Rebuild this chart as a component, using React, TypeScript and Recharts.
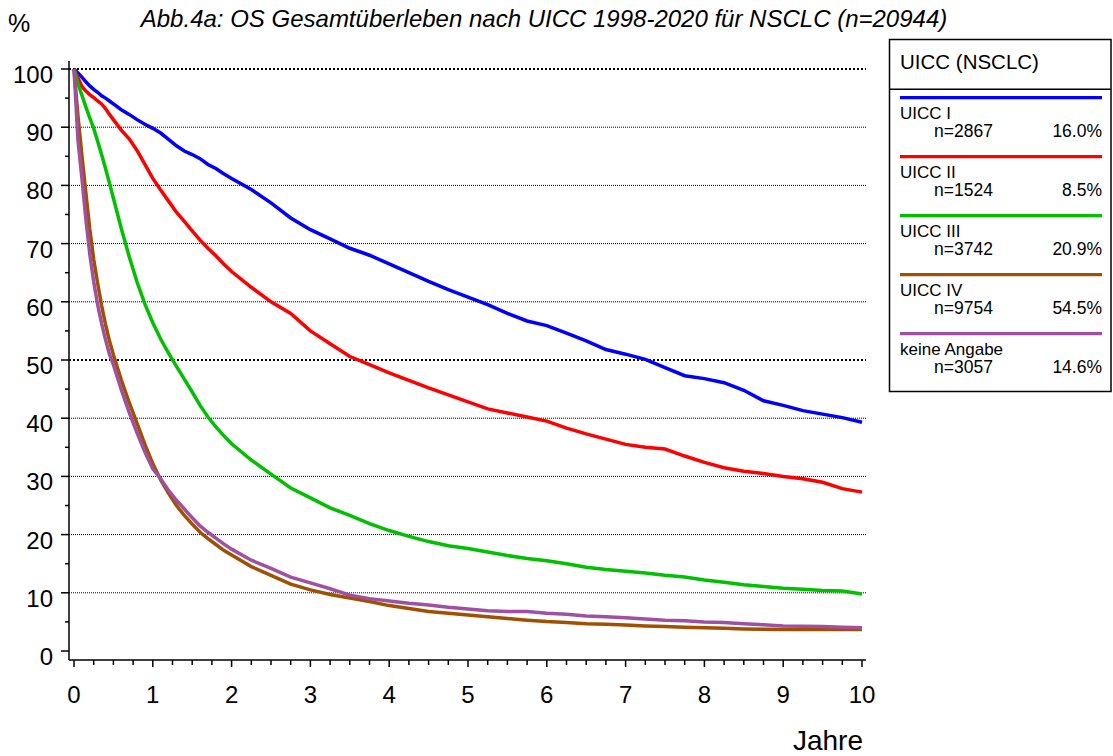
import React from "react";
import { LineChart, Line, XAxis, YAxis, CartesianGrid } from "recharts";

const years = [
  0, 0.05, 0.1, 0.15, 0.2, 0.25, 0.3, 0.35, 0.4, 0.45,
  0.5, 0.6, 0.7, 0.8, 0.9, 1.0, 1.1, 1.2, 1.3, 1.4,
  1.5, 1.6, 1.7, 1.8, 1.9, 2.0, 2.25, 2.5, 2.75, 3.0,
  3.25, 3.5, 3.75, 4.0, 4.25, 4.5, 4.75, 5.0, 5.25, 5.5,
  5.75, 6.0, 6.25, 6.5, 6.75, 7.0, 7.25, 7.5, 7.75, 8.0,
  8.25, 8.5, 8.75, 9.0, 9.25, 9.5, 9.75, 10,
];

const uiccI = [
  100, 99.3, 98.6, 97.8, 97.1, 96.5, 96.0, 95.4, 95.0, 94.5,
  94.0, 93.0, 92.2, 91.3, 90.5, 89.8, 89.0, 87.9, 86.8, 85.9,
  85.3, 84.6, 83.6, 82.9, 82.0, 81.2, 79.3, 77.0, 74.4, 72.4,
  70.8, 69.2, 68.0, 66.5, 65.0, 63.5, 62.1, 60.8, 59.5, 58.0,
  56.7, 55.9, 54.6, 53.3, 51.8, 51.0, 50.1, 48.7, 47.3, 46.8,
  46.1, 44.8, 43.0, 42.2, 41.3, 40.7, 40.1, 39.3,
];

const uiccII = [
  100, 98.5, 97.0, 96.2, 95.6, 95.1, 94.5, 94.0, 93.2, 92.2,
  91.3, 89.5, 88.0, 86.0, 83.6, 81.2, 79.2, 77.3, 75.4, 73.8,
  72.2, 70.6, 69.2, 67.9, 66.5, 65.2, 62.5, 60.0, 58.0, 55.0,
  52.8, 50.6, 49.2, 47.8, 46.5, 45.2, 44.0, 42.8, 41.6, 40.9,
  40.2, 39.5, 38.3, 37.3, 36.4, 35.5, 35.0, 34.7, 33.5, 32.4,
  31.5, 30.9, 30.5, 30.0, 29.6, 29.0, 27.9, 27.3,
];

const uiccIII = [
  100, 97.5, 95.5, 93.5, 91.6, 89.8, 87.6, 85.3, 82.9, 80.4,
  77.8, 72.6, 67.8, 63.4, 59.6, 56.4, 53.6, 51.2, 48.9, 46.7,
  44.5, 42.2, 40.2, 38.5, 37.0, 35.6, 32.8, 30.4, 28.0, 26.3,
  24.6, 23.3, 21.9, 20.7, 19.7, 18.8, 18.1, 17.6, 17.0, 16.4,
  15.9, 15.5, 15.0, 14.4, 14.0, 13.7, 13.4, 13.0, 12.7, 12.2,
  11.8, 11.4, 11.1, 10.8, 10.6, 10.4, 10.3, 9.8,
];

const uiccIV = [
  100, 92.0, 85.2, 78.8, 72.5, 67.3, 63.2, 59.4, 56.1, 53.3,
  50.9, 46.6, 42.7, 39.1, 35.5, 32.2, 29.4, 27.1, 25.0, 23.3,
  21.8, 20.4, 19.3, 18.3, 17.3, 16.5, 14.5, 13.0, 11.5, 10.5,
  9.7, 9.1, 8.5, 7.8, 7.3, 6.8, 6.5, 6.2, 5.9, 5.6,
  5.3, 5.05, 4.9, 4.7, 4.6, 4.45, 4.3, 4.2, 4.1, 4.0,
  3.9, 3.8, 3.75, 3.7, 3.7, 3.7, 3.7, 3.7,
];

const keineAngabe = [
  100, 87.8, 81.3, 74.3, 68.2, 63.5, 59.5, 56.3, 53.5, 51.0,
  49.2, 44.9, 41.0, 37.5, 34.2, 31.3, 29.6, 27.6, 25.9, 24.4,
  22.9, 21.5, 20.4, 19.4, 18.4, 17.5, 15.6, 14.2, 12.7, 11.7,
  10.7, 9.6, 9.0, 8.6, 8.2, 7.9, 7.5, 7.2, 6.9, 6.8,
  6.8, 6.5, 6.3, 6.0, 5.9, 5.7, 5.5, 5.3, 5.2, 5.0,
  4.9, 4.7, 4.5, 4.3, 4.25, 4.2, 4.1, 4.0,
];

const seriesKeys = ["uiccI", "uiccII", "uiccIII", "uiccIV", "keineAngabe"];
const seriesColors = ["#0000ff", "#ff0000", "#00c000", "#a05000", "#a050a0"];
const legendLabels = ["UICC I", "UICC II", "UICC III", "UICC IV", "keine Angabe"];
const legendN = ["n=2867", "n=1524", "n=3742", "n=9754", "n=3057"];
const legendPct = ["16.0%", "8.5%", "20.9%", "54.5%", "14.6%"];

const xTicks = Array.from({ length: 41 }, (_, i) => i * 0.25);
const yTicks = Array.from({ length: 21 }, (_, i) => i * 5);

const title = "Abb.4a: OS Gesamtüberleben nach UICC 1998-2020 für NSCLC (n=20944)";
const legendTitle = "UICC (NSCLC)";

const data = years.map((t, i) => ({
  t,
  uiccI: uiccI[i],
  uiccII: uiccII[i],
  uiccIII: uiccIII[i],
  uiccIV: uiccIV[i],
  keineAngabe: keineAngabe[i],
}));

const FONT = "'Liberation Sans', Arial, Helvetica, sans-serif";

const XTick = (props: any) => {
  const { x, y, payload } = props;
  const v = payload.value;
  const major = Math.abs(v - Math.round(v)) < 1e-6;
  return (
    <g>
      <line x1={x} x2={x} y1={y} y2={y + (major ? 7 : 5)} stroke="#000" strokeWidth={1.5} />
      {major && (
        <text x={x} y={y + 43} textAnchor="middle" fontSize={24} fontFamily={FONT} fill="#000">
          {Math.round(v)}
        </text>
      )}
    </g>
  );
};

const YTick = (props: any) => {
  const { x, y, payload } = props;
  const v = payload.value;
  const major = v % 10 === 0;
  return (
    <g>
      <line x1={x} x2={x - (major ? 8 : 4)} y1={y} y2={y} stroke="#000" strokeWidth={1.5} />
      {major && (
        <text x={x - 16} y={y + 14} textAnchor="end" fontSize={24} fontFamily={FONT} fill="#000">
          {v}
        </text>
      )}
    </g>
  );
};

export default function App() {
  return (
    <div style={{ position: "absolute", left: 0, top: 0, width: 1113, height: 756, background: "#fff" }}>
      <LineChart
        width={1113}
        height={756}
        data={data}
        margin={{ top: 61, right: 247, bottom: 56, left: 9 }}
      >
        <CartesianGrid
          vertical={false}
          horizontalValues={[10, 20, 30, 40, 60, 70, 80, 90]}
          stroke="#000"
          strokeWidth={1}
          strokeDasharray="1 1"
        />
        <CartesianGrid
          vertical={false}
          horizontalValues={[50, 100]}
          stroke="#000"
          strokeWidth={2}
          strokeDasharray="2 2"
        />
        <XAxis
          type="number"
          dataKey="t"
          domain={[0, 10]}
          ticks={xTicks}
          interval={0}
          padding={{ left: 5, right: 4 }}
          height={40}
          tickSize={0}
          tickMargin={0}
          tickLine={false}
          axisLine={{ stroke: "#000", strokeWidth: 1.5 }}
          tick={<XTick />}
        />
        <YAxis
          type="number"
          domain={[0, 100]}
          ticks={yTicks}
          interval={0}
          padding={{ top: 8, bottom: 9 }}
          width={60}
          tickSize={0}
          tickMargin={0}
          tickLine={false}
          axisLine={{ stroke: "#000", strokeWidth: 1.5 }}
          tick={<YTick />}
        />
        {seriesKeys.map((k, i) => (
          <Line
            key={k}
            type="linear"
            dataKey={k}
            stroke={seriesColors[i]}
            strokeWidth={3.5}
            dot={false}
            activeDot={false}
            isAnimationActive={false}
          />
        ))}
      </LineChart>
      <svg
        width={1113}
        height={756}
        style={{ position: "absolute", left: 0, top: 0, pointerEvents: "none" }}
        fontFamily={FONT}
      >
        <text x={544} y={27} textAnchor="middle" fontSize={24} fontStyle="italic" fill="#000">
          {title}
        </text>
        <text x={8} y={32} fontSize={25} fill="#000">%</text>
        <text x={863} y={750} textAnchor="end" fontSize={28} fill="#000">Jahre</text>
        <rect x={889.5} y={39.5} width={221.5} height={352} fill="none" stroke="#000" strokeWidth={1.5} />
        <line x1={889.5} x2={1111} y1={89.3} y2={89.3} stroke="#000" strokeWidth={1.5} />
        <text x={900} y={69} fontSize={20.5} fill="#000">{legendTitle}</text>
        {legendLabels.map((lab, i) => {
          const ly = 97.7 + 59 * i;
          return (
            <g key={lab}>
              <line x1={900} x2={1102} y1={ly} y2={ly} stroke={seriesColors[i]} strokeWidth={3.3} />
              <text x={900} y={ly + 21} fontSize={17} fill="#000">{lab}</text>
              <text x={934} y={ly + 39.5} fontSize={17.5} fill="#000">{legendN[i]}</text>
              <text x={1102} y={ly + 39.5} fontSize={17.5} textAnchor="end" fill="#000">{legendPct[i]}</text>
            </g>
          );
        })}
      </svg>
    </div>
  );
}
